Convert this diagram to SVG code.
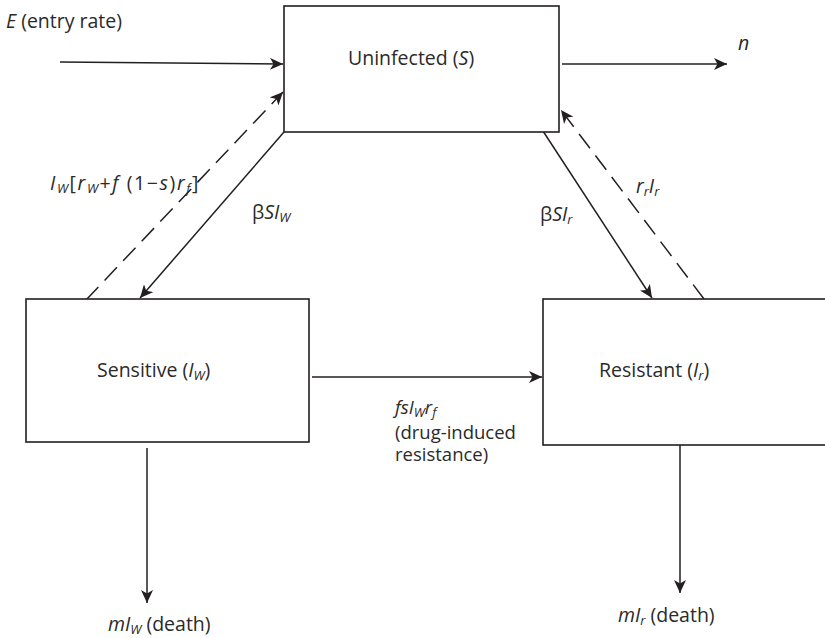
<svg xmlns="http://www.w3.org/2000/svg" width="825" height="638" viewBox="0 0 825 638">
<defs>
<style>
.box{fill:#fff;stroke:#231f20;stroke-width:1.6}
.ln{stroke:#231f20;stroke-width:1.5;fill:none}
.dash{stroke-dasharray:18 9}
text{font-family:"Open Sans","Liberation Sans",sans-serif;font-size:19.5px;fill:#2a2a2a}
.i{font-style:italic}
.sb{font-size:13px}
.sm{font-size:18.5px}
</style>
<marker id="ah" markerUnits="userSpaceOnUse" markerWidth="14" markerHeight="12" refX="13" refY="6" orient="auto">
<path d="M0,0 L13,6 L0,12 L3.5,6 Z" fill="#231f20"/>
</marker>
</defs>
<rect width="825" height="638" fill="#fff"/>
<g id="connectors">
<line class="ln" x1="60" y1="62" x2="283" y2="64" marker-end="url(#ah)"/>
<line class="ln" x1="562" y1="64" x2="727" y2="64" marker-end="url(#ah)"/>
<line class="ln dash" x1="86" y1="300" x2="283" y2="92" marker-end="url(#ah)"/>
<line class="ln" x1="284" y1="132" x2="140" y2="298" marker-end="url(#ah)"/>
<line class="ln" x1="541" y1="128" x2="652" y2="298" marker-end="url(#ah)"/>
<line class="ln dash" x1="704" y1="299" x2="561" y2="110" marker-end="url(#ah)"/>
<line class="ln" x1="312" y1="377" x2="542" y2="377" marker-end="url(#ah)"/>
<line class="ln" x1="147" y1="448" x2="147" y2="603" marker-end="url(#ah)"/>
<line class="ln" x1="680" y1="445" x2="680" y2="593" marker-end="url(#ah)"/>
</g>
<g id="uninfected">
<rect class="box" x="284" y="6" width="275" height="126"/>
<text x="348" y="65">Uninfected (<tspan class="i">S</tspan>)</text>
</g>
<g id="sensitive">
<rect class="box" x="26" y="299" width="283" height="143"/>
<text x="97" y="377">Sensitive (<tspan class="i">I</tspan><tspan class="i sb" dy="3">W</tspan><tspan dy="-3">)</tspan></text>
</g>
<g id="resistant">
<rect class="box" x="543" y="299" width="290" height="146"/>
<text x="599" y="377">Resistant (<tspan class="i">I</tspan><tspan class="i sb" dy="3">r</tspan><tspan dy="-3">)</tspan></text>
</g>
<g id="labels">
<text x="6" y="28"><tspan class="i">E</tspan> (entry rate)</text>
<text x="738" y="50" class="i">n</text>
<text x="50" y="190" letter-spacing="1.6"><tspan class="i">I</tspan><tspan class="i sb" dy="3">W</tspan><tspan dy="-3">[</tspan><tspan class="i">r</tspan><tspan class="i sb" dy="3">W</tspan><tspan dy="-3">+</tspan><tspan class="i">f</tspan> (1−<tspan class="i">s</tspan>)<tspan class="i">r</tspan><tspan class="i sb" dy="3">f</tspan><tspan dy="-3">]</tspan></text>
<text x="252" y="219">β<tspan class="i">SI</tspan><tspan class="i sb" dy="3">W</tspan></text>
<text x="540" y="221">β<tspan class="i">SI</tspan><tspan class="i sb" dy="3">r</tspan></text>
<text x="636" y="193"><tspan class="i">r</tspan><tspan class="i sb" dy="3">r</tspan><tspan class="i" dy="-3">I</tspan><tspan class="i sb" dy="3">r</tspan></text>
<text class="sm" x="395" y="414"><tspan class="i">fsI</tspan><tspan class="i sb" dy="3">W</tspan><tspan class="i" dy="-3">r</tspan><tspan class="i sb" dy="3">f</tspan><tspan x="395" dy="22">(drug-induced</tspan><tspan x="395" dy="22">resistance)</tspan></text>
<text x="108" y="631"><tspan class="i">mI</tspan><tspan class="i sb" dy="3">W</tspan><tspan dy="-3"> (death)</tspan></text>
<text x="618" y="622"><tspan class="i">mI</tspan><tspan class="i sb" dy="3">r</tspan><tspan dy="-3">  (death)</tspan></text>
</g>
</svg>
